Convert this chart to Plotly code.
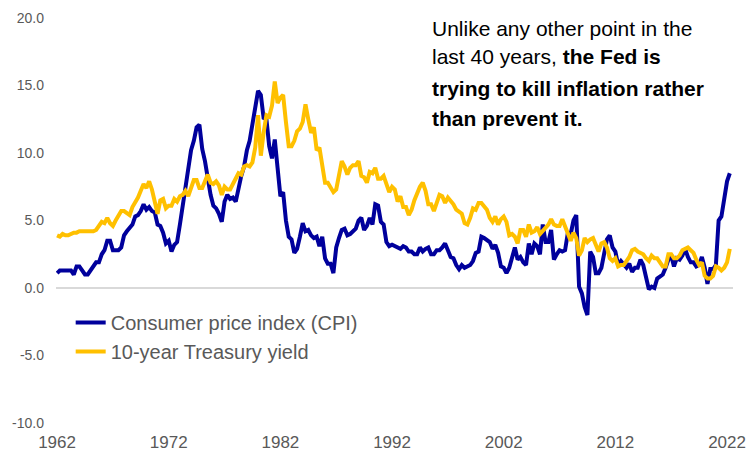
import plotly.graph_objects as go
import pandas as pd

# Quarterly observations (Jan, Apr, Jul, Oct), 1962 Q1 .. 2022 Q2
cpi = [
    1.1, 1.3, 1.3, 1.3,   # 1962
    1.3, 1.3, 1.0, 1.6,   # 1963
    1.6, 1.3, 1.0, 1.0,   # 1964
    1.3, 1.6, 1.9, 1.9,   # 1965
    2.5, 2.8, 3.5, 3.5,   # 1966
    2.8, 2.8, 2.8, 3.0,   # 1967
    3.9, 4.2, 4.5, 4.7,   # 1968
    5.3, 5.4, 5.7, 6.2,   # 1969
    5.8, 6.0, 5.7, 5.6,   # 1970
    4.7, 4.6, 4.1, 3.3,   # 1971
    3.5, 2.7, 3.2, 3.4,   # 1972
    4.7, 6.0, 7.4, 8.7,   # 1973
    10.2, 10.9, 11.9, 12.1,  # 1974
    10.3, 9.4, 7.9, 6.9,  # 1975
    6.1, 5.9, 5.5, 4.9,   # 1976
    6.4, 6.9, 6.6, 6.7,   # 1977
    6.4, 7.4, 8.3, 9.0,   # 1978
    10.2, 10.9, 12.1, 13.3,  # 1979
    14.6, 14.3, 12.6, 12.5,  # 1980
    10.5, 9.6, 11.0, 8.9,  # 1981
    6.8, 7.1, 5.0, 3.8,   # 1982
    3.6, 2.6, 2.9, 3.8,   # 1983
    4.8, 4.2, 4.3, 3.9,   # 1984
    3.7, 3.8, 3.1, 3.8,   # 1985
    2.2, 1.8, 1.8, 1.1,   # 1986
    3.0, 3.7, 4.3, 4.4,   # 1987
    3.9, 4.0, 4.2, 4.4,   # 1988
    5.0, 5.2, 4.3, 4.6,   # 1989
    5.2, 4.7, 6.2, 6.1,   # 1990
    4.9, 4.7, 3.4, 3.1,   # 1991
    3.2, 3.1, 3.0, 2.9,   # 1992
    3.1, 3.0, 2.7, 2.7,   # 1993
    2.5, 2.5, 3.0, 2.7,   # 1994
    2.9, 3.0, 2.5, 2.5,   # 1995
    2.8, 2.8, 3.0, 3.3,   # 1996
    2.8, 2.3, 2.2, 1.7,   # 1997
    1.4, 1.7, 1.5, 1.6,   # 1998
    1.7, 2.0, 2.6, 2.7,   # 1999
    3.8, 3.7, 3.5, 3.4,   # 2000
    2.9, 3.2, 2.6, 1.6,   # 2001
    1.5, 1.1, 1.5, 2.4,   # 2002
    3.0, 2.1, 2.3, 1.9,   # 2003
    1.7, 3.3, 2.5, 3.3,   # 2004
    3.1, 2.5, 4.7, 3.4,   # 2005
    3.4, 4.3, 2.1, 2.5,   # 2006
    2.8, 2.7, 2.8, 4.1,   # 2007
    4.0, 5.0, 5.4, 0.1,   # 2008
    -0.4, -1.4, -2.0, 2.7,  # 2009
    2.3, 1.1, 1.1, 1.5,   # 2010
    2.7, 3.6, 3.9, 3.0,   # 2011
    2.7, 1.7, 2.0, 1.7,   # 2012
    1.5, 1.8, 1.2, 1.5,   # 2013
    1.5, 2.1, 1.7, 0.8,   # 2014
    -0.1, 0.1, 0.0, 0.7,  # 2015
    0.9, 1.0, 1.5, 2.1,   # 2016
    2.4, 1.6, 2.2, 2.1,   # 2017
    2.4, 2.9, 2.3, 1.9,   # 2018
    1.9, 1.6, 1.7, 2.3,   # 2019
    1.5, 0.3, 1.4, 1.4,   # 2020
    1.7, 5.0, 5.3, 6.8,   # 2021
    7.9, 8.5,             # 2022
]

treasury = [
    3.9, 3.8, 4.0, 3.9,   # 1962
    3.9, 4.0, 4.1, 4.1,   # 1963
    4.2, 4.2, 4.2, 4.2,   # 1964
    4.2, 4.2, 4.3, 4.6,   # 1965
    4.9, 4.8, 5.2, 4.8,   # 1966
    4.6, 5.0, 5.3, 5.7,   # 1967
    5.7, 5.5, 5.4, 6.0,   # 1968
    6.3, 6.7, 7.2, 7.7,   # 1969
    7.4, 7.9, 7.3, 6.4,   # 1970
    5.5, 6.5, 6.6, 5.9,   # 1971
    6.1, 6.1, 6.6, 6.4,   # 1972
    6.8, 6.9, 7.2, 6.8,   # 1973
    7.5, 8.0, 8.0, 7.4,   # 1974
    7.4, 8.0, 8.4, 7.8,   # 1975
    7.7, 7.9, 7.6, 6.9,   # 1976
    7.5, 7.3, 7.3, 7.7,   # 1977
    8.1, 8.5, 8.4, 9.0,   # 1978
    9.1, 9.0, 9.3, 10.4,  # 1979
    12.8, 9.8, 11.5, 12.8,  # 1980
    12.7, 13.5, 15.3, 13.7,  # 1981
    14.1, 14.3, 12.3, 10.5,  # 1982
    10.5, 10.9, 11.6, 11.8,  # 1983
    12.3, 13.6, 12.5, 11.5,  # 1984
    11.9, 10.2, 10.4, 9.3,  # 1985
    7.8, 7.8, 7.5, 7.1,   # 1986
    7.3, 8.4, 9.4, 9.0,   # 1987
    8.4, 8.9, 9.1, 9.1,   # 1988
    9.4, 8.3, 8.2, 7.8,   # 1989
    8.6, 8.5, 8.9, 8.1,   # 1990
    8.1, 8.3, 7.7, 7.1,   # 1991
    7.5, 7.3, 6.4, 6.8,   # 1992
    6.0, 6.0, 5.4, 5.8,   # 1993
    6.5, 7.1, 7.5, 7.8,   # 1994
    7.2, 6.2, 6.2, 5.7,   # 1995
    6.3, 6.9, 6.8, 6.3,   # 1996
    6.7, 6.5, 6.2, 5.8,   # 1997
    5.6, 5.5, 4.8, 4.7,   # 1998
    5.2, 5.9, 5.8, 6.3,   # 1999
    6.3, 6.1, 5.8, 5.2,   # 2000
    4.9, 5.3, 4.7, 5.1,   # 2001
    5.3, 4.9, 3.9, 4.0,   # 2002
    3.8, 3.3, 4.3, 4.3,   # 2003
    3.8, 4.7, 4.1, 4.2,   # 2004
    4.5, 4.0, 4.2, 4.5,   # 2005
    4.7, 5.1, 4.7, 4.6,   # 2006
    4.6, 5.1, 4.5, 4.1,   # 2007
    3.5, 4.1, 3.7, 2.4,   # 2008
    2.8, 3.7, 3.4, 3.6,   # 2009
    3.7, 3.2, 2.7, 3.3,   # 2010
    3.4, 3.0, 2.2, 2.0,   # 2011
    2.2, 1.6, 1.7, 1.7,   # 2012
    2.0, 2.3, 2.8, 2.9,   # 2013
    2.7, 2.6, 2.5, 2.2,   # 2014
    2.0, 2.4, 2.2, 2.2,   # 2015
    1.9, 1.6, 1.6, 2.5,   # 2016
    2.5, 2.2, 2.2, 2.4,   # 2017
    2.8, 2.9, 3.0, 2.8,   # 2018
    2.6, 2.1, 1.7, 1.9,   # 2019
    0.9, 0.7, 0.7, 0.9,   # 2020
    1.6, 1.5, 1.3, 1.5,   # 2021
    1.9, 2.9,             # 2022
]

dates = pd.date_range("1962-01-01", periods=len(cpi), freq="QS")

series_names = ["Consumer price index (CPI)", "10-year Treasury yield"]
y_ticks = [-10, -5, 0, 5, 10, 15, 20]
x_tick_years = [1962, 1972, 1982, 1992, 2002, 2012, 2022]

note_lines = [
    "Unlike any other point in the",
    "last 40 years, <b>the Fed is</b>",
    "<b>trying to kill inflation rather</b>",
    "<b>than prevent it.</b>",
]

fig = go.Figure()
fig.add_trace(go.Scatter(x=dates, y=cpi, mode="lines", name=series_names[0],
                         line=dict(color="#00009C", width=4)))
fig.add_trace(go.Scatter(x=dates, y=treasury, mode="lines", name=series_names[1],
                         line=dict(color="#FFC000", width=4)))

note_y = [0.975, 0.904, 0.827, 0.753]
for txt, yy in zip(note_lines, note_y):
    fig.add_annotation(text=txt, xref="paper", yref="paper", x=0.5525, y=yy,
                       xanchor="left", yanchor="middle", showarrow=False,
                       font=dict(family="Liberation Sans, Arial, sans-serif", size=21, color="#000000"))

fig.update_layout(
    width=754, height=452,
    margin=dict(l=56, r=21, t=18, b=29, autoexpand=False),
    paper_bgcolor="white", plot_bgcolor="white",
    font=dict(family="Liberation Sans, Arial, sans-serif", color="#595959"),
    showlegend=True,
    legend=dict(x=0.0217, y=0.296, xanchor="left", yanchor="top",
                font=dict(size=20, color="#595959"), bgcolor="rgba(0,0,0,0)",
                tracegroupgap=0, itemwidth=30),
    xaxis=dict(type="date", range=["1961-11-27", "2022-07-15"], automargin=False,
               tickvals=[f"{y}-01-01" for y in x_tick_years],
               ticktext=[str(y) for y in x_tick_years],
               showgrid=False, showline=False, zeroline=False, ticks="",
               tickfont=dict(size=17, color="#595959"), ticklabelstandoff=7),
    yaxis=dict(range=[-10, 20], tickvals=y_ticks, automargin=False,
               ticktext=[f"{v:.1f}" for v in y_ticks],
               showgrid=False, showline=False, zeroline=True,
               zerolinecolor="#D9D9D9", zerolinewidth=1.5, ticks="",
               tickfont=dict(size=14, color="#595959"), ticklabelstandoff=11),
)

fig.write_html("out.html", config={"displayModeBar": False},
               post_script="document.body.style.margin='0px';")
